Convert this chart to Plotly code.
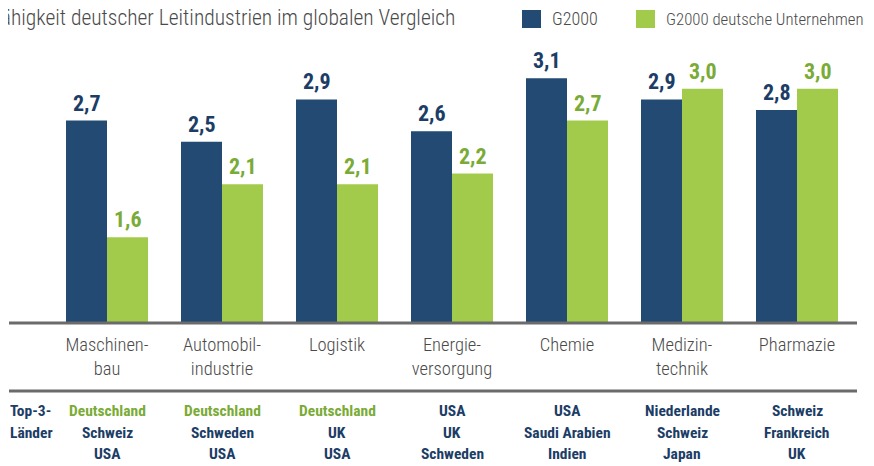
import plotly.graph_objects as go

categories = ["Maschinen-<br>bau", "Automobil-<br>industrie", "Logistik", "Energie-<br>versorgung",
              "Chemie", "Medizin-<br>technik", "Pharmazie"]
g2000 = [2.7, 2.5, 2.9, 2.6, 3.1, 2.9, 2.8]
g2000_de = [1.6, 2.1, 2.1, 2.2, 2.7, 3.0, 3.0]
top3 = [
    ["Deutschland", "Schweiz", "USA"],
    ["Deutschland", "Schweden", "USA"],
    ["Deutschland", "UK", "USA"],
    ["USA", "UK", "Schweden"],
    ["USA", "Saudi Arabien", "Indien"],
    ["Niederlande", "Schweiz", "Japan"],
    ["Schweiz", "Frankreich", "UK"],
]
row_label = ["Top-3-", "Länder"]
series_names = ["G2000", "G2000 deutsche Unternehmen"]
title_text = "Wettbewerbsfähigkeit deutscher Leitindustrien im globalen Vergleich"

BLUE = "#224a72"
GREEN = "#a3cb4b"
BLUE_T = "#1c3d66"
GREEN_T = "#7aab36"
GREY = "#4a4a4a"
FONT = "Roboto Condensed, DejaVu Sans Condensed, sans-serif"

# the page body has an 8px margin; layout below is expressed in page pixels
OFF = 8
W, H = 874 - OFF, 466 - OFF
PLOT_L, PLOT_R, PLOT_T, PLOT_B = 9, 857, 40, 322  # page pixels
ML, MT = PLOT_L - OFF, PLOT_T - OFF
MR = W - (PLOT_R - OFF)
MB = H - (PLOT_B - OFF)
PW, PH = W - ML - MR, H - MT - MB
Y0 = 0.8
PX_PER_UNIT = 106.0
Y1 = Y0 + PH / PX_PER_UNIT
CAT_PX = 115.0
x_left = -(107 - PLOT_L) / CAT_PX
x_right = x_left + PW / CAT_PX


def px(xp):
    return (xp - PLOT_L) / PW


def py(yp):
    return (PLOT_B - yp) / PH


fig = go.Figure()
fig.add_trace(go.Bar(x=list(range(7)), y=g2000, name=series_names[0], marker_color=BLUE,
                     marker_line_width=0, showlegend=False))
fig.add_trace(go.Bar(x=list(range(7)), y=g2000_de, name=series_names[1], marker_color=GREEN,
                     marker_line_width=0, showlegend=False))

annotations = []
row_y = [411, 432.5, 454]
for i in range(7):
    annotations.append(dict(x=i, y=g2000[i], xref="x", yref="y", text=f"{g2000[i]:.1f}".replace(".", ","),
                            showarrow=False, xshift=-20.5, yshift=3, yanchor="bottom",
                            font=dict(family=FONT, size=22, color=BLUE_T, weight="bold")))
    annotations.append(dict(x=i, y=g2000_de[i], xref="x", yref="y", text=f"{g2000_de[i]:.1f}".replace(".", ","),
                            showarrow=False, xshift=20.5, yshift=3, yanchor="bottom",
                            font=dict(family=FONT, size=22, color=GREEN_T, weight="bold")))
    for j, name in enumerate(top3[i]):
        col = GREEN_T if name == "Deutschland" else BLUE_T
        annotations.append(dict(x=i, y=py(row_y[j]), xref="x", yref="paper", text=name,
                                showarrow=False, yanchor="middle", xanchor="center",
                                font=dict(family=FONT, size=15.5, color=col, weight="bold")))

for j, t in enumerate(row_label):
    annotations.append(dict(x=px(8), y=py(row_y[j]), xref="paper", yref="paper", text=t,
                            showarrow=False, yanchor="middle", xanchor="left",
                            font=dict(family=FONT, size=15.5, color=BLUE_T, weight="bold")))

annotations.append(dict(x=px(457), y=py(17), xref="paper", yref="paper", text=title_text,
                        showarrow=False, xanchor="right", yanchor="middle",
                        font=dict(family=FONT, size=21.5, color=GREY, weight=300)))

annotations.append(dict(x=px(550), y=py(19), xref="paper", yref="paper", text=series_names[0],
                        showarrow=False, xanchor="left", yanchor="middle",
                        font=dict(family=FONT, size=18, color=GREY, weight=300)))
annotations.append(dict(x=px(664), y=py(19), xref="paper", yref="paper", text=series_names[1],
                        showarrow=False, xanchor="left", yanchor="middle",
                        font=dict(family=FONT, size=16.8, color=GREY, weight=300)))

shapes = [
    dict(type="rect", xref="paper", yref="paper", x0=px(522), x1=px(541), y0=py(28), y1=py(10),
         fillcolor=BLUE, line_width=0),
    dict(type="rect", xref="paper", yref="paper", x0=px(636), x1=px(655), y0=py(28), y1=py(10),
         fillcolor=GREEN, line_width=0),
    dict(type="line", xref="paper", yref="paper", x0=0, x1=1, y0=py(323), y1=py(323),
         line=dict(color="#6b6b6b", width=3)),
    dict(type="line", xref="paper", yref="paper", x0=0, x1=1, y0=py(391), y1=py(391),
         line=dict(color="#6b6b6b", width=3)),
]

fig.update_layout(
    width=W, height=H,
    margin=dict(l=ML, r=MR, t=MT, b=MB, pad=0),
    plot_bgcolor="white", paper_bgcolor="white",
    barmode="group", bargap=0.287, bargroupgap=0,
    annotations=annotations, shapes=shapes,
    xaxis=dict(range=[x_left, x_right], tickmode="array", tickvals=list(range(7)), ticktext=categories,
               showgrid=False, zeroline=False, showline=False, ticks="outside", ticklen=6,
               tickcolor="rgba(0,0,0,0)",
               tickfont=dict(family=FONT, size=18.5, color=GREY, weight=300)),
    yaxis=dict(range=[Y0, Y1], showgrid=False, zeroline=False, showline=False,
               showticklabels=False, ticks=""),
)

fig.write_html("out.html")
